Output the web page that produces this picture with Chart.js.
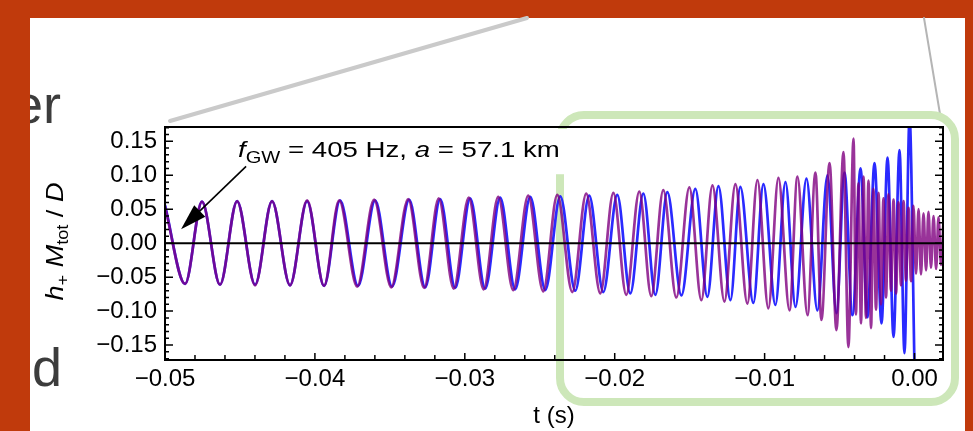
<!DOCTYPE html>
<html>
<head>
<meta charset="utf-8">
<script src="https://cdn.jsdelivr.net/npm/chart.js@4.4.1/dist/chart.umd.min.js"></script>
<style>
  html, body { margin: 0; padding: 0; background: #c03a0c; overflow: hidden; }
  #wrap { position: relative; width: 973px; height: 431px; }
  canvas { display: block; }
</style>
</head>
<body>
<div id="wrap"><canvas id="c" width="973" height="431"></canvas></div>
<script>
// Successive extrema of the strain h+ Mtot/D against time t (s) for the two waveforms.
const blueT = [-0.05000, -0.04866, -0.04753, -0.04633, -0.04519, -0.04399, -0.04286, -0.04166, -0.04052, -0.03939,
               -0.03832, -0.03712, -0.03598, -0.03485, -0.03371, -0.03264, -0.03164, -0.03064, -0.02964, -0.02864,
               -0.02764, -0.02664, -0.02563, -0.02463, -0.02363, -0.02263, -0.02170, -0.02076, -0.01983, -0.01896,
               -0.01809, -0.01729, -0.01649, -0.01555, -0.01462, -0.01382, -0.01308, -0.01228, -0.01162, -0.01075,
               -0.01008, -0.00928, -0.00861, -0.00794, -0.00721, -0.00648, -0.00581, -0.00521, -0.00467, -0.00414,
               -0.00360, -0.00314, -0.00267, -0.00220, -0.00180, -0.00140, -0.00100, -0.00067, -0.00033, 0.00000];
const blueH = [0.056, -0.060, 0.061, -0.061, 0.062, -0.061, 0.062, -0.062, 0.062, -0.063,
               0.063, -0.063, 0.063, -0.064, 0.064, -0.065, 0.065, -0.066, 0.066, -0.067,
               0.067, -0.068, 0.068, -0.069, 0.069, -0.070, 0.070, -0.072, 0.071, -0.074,
               0.073, -0.076, 0.075, -0.077, 0.080, -0.079, 0.084, -0.084, 0.083, -0.088,
               0.087, -0.091, 0.090, -0.094, 0.095, -0.099, 0.100, -0.103, 0.104, -0.106,
               0.110, -0.109, 0.118, -0.118, 0.126, -0.138, 0.137, -0.162, 0.185, -0.185];

const purpleT = [-0.05000, -0.04866, -0.04753, -0.04633, -0.04519, -0.04399, -0.04286, -0.04166, -0.04052, -0.03939,
                 -0.03838, -0.03718, -0.03605, -0.03491, -0.03378, -0.03271, -0.03174, -0.03074, -0.02974, -0.02874,
                 -0.02777, -0.02677, -0.02577, -0.02477, -0.02383, -0.02283, -0.02190, -0.02096, -0.02009, -0.01923,
                 -0.01836, -0.01756, -0.01676, -0.01589, -0.01502, -0.01422, -0.01348, -0.01268, -0.01195, -0.01115,
                 -0.01048, -0.00975, -0.00908, -0.00834, -0.00781, -0.00714, -0.00661, -0.00621, -0.00567, -0.00521,
                 -0.00474, -0.00441, -0.00407,
                 -0.00391, -0.00374, -0.00357, -0.00340, -0.00324, -0.00307, -0.00290, -0.00274, -0.00257, -0.00240,
                 -0.00224, -0.00207, -0.00190, -0.00174, -0.00157, -0.00140, -0.00123, -0.00107, -0.00090, -0.00073,
                 -0.00057, -0.00040, -0.00023, -0.00007, 0.00010, 0.00027, 0.00043, 0.00060, 0.00077, 0.00093,
                 0.00110, 0.00127, 0.00144, 0.00160, 0.00177, 0.00194];
const purpleH = [0.054, -0.060, 0.061, -0.061, 0.062, -0.062, 0.062, -0.062, 0.063, -0.063,
                 0.063, -0.064, 0.064, -0.065, 0.065, -0.066, 0.066, -0.067, 0.067, -0.068,
                 0.068, -0.069, 0.070, -0.071, 0.071, -0.072, 0.073, -0.074, 0.074, -0.076,
                 0.076, -0.078, 0.078, -0.080, 0.082, -0.084, 0.085, -0.086, 0.087, -0.089,
                 0.093, -0.096, 0.096, -0.099, 0.098, -0.106, 0.104, -0.113, 0.118, -0.128,
                 0.134, -0.153, 0.154,
                 -0.105, 0.088, -0.118, 0.098, -0.110, 0.092, -0.125, 0.080, -0.098, 0.074,
                 -0.090, 0.066, -0.080, 0.072, -0.070, 0.064, -0.074, 0.060, -0.062, 0.062,
                 -0.055, 0.052, -0.056, 0.055, -0.045, 0.050, -0.046, 0.044, -0.040, 0.046,
                 -0.036, 0.040, -0.038, 0.038, -0.032, 0.036];

const xTicks = [-0.05, -0.04, -0.03, -0.02, -0.01, 0.00];
const yTicks = [-0.15, -0.10, -0.05, 0.00, 0.05, 0.10, 0.15];

const FONT = "'Liberation Sans', Arial, Helvetica, sans-serif";

const toPoints = (ts, hs) => ts.map((t, i) => ({ x: t, y: hs[i] }));
const fmt = v => Math.abs(v) < 1e-9 ? '0.00' : (v < 0 ? '\u2212' : '') + Math.abs(v).toFixed(2);

function roundRectPath(ctx, x, y, w, h, r) {
  ctx.beginPath();
  ctx.moveTo(x + r, y);
  ctx.lineTo(x + w - r, y);
  ctx.arcTo(x + w, y, x + w, y + r, r);
  ctx.lineTo(x + w, y + h - r);
  ctx.arcTo(x + w, y + h, x + w - r, y + h, r);
  ctx.lineTo(x + r, y + h);
  ctx.arcTo(x, y + h, x, y + h - r, r);
  ctx.lineTo(x, y + r);
  ctx.arcTo(x, y, x + r, y, r);
  ctx.closePath();
}

// Draws a run of text pieces [text, font, dy] scaled horizontally to a given width.
function drawRuns(ctx, runs, width) {
  let total = 0;
  for (const [t, f] of runs) { ctx.font = f; total += ctx.measureText(t).width; }
  const sx = width / total;
  ctx.save();
  ctx.scale(sx, 1);
  let cx = 0;
  for (const [t, f, dy] of runs) {
    ctx.font = f;
    ctx.fillText(t, cx, dy || 0);
    cx += ctx.measureText(t).width;
  }
  ctx.restore();
}

// Slide backdrop: frame colour, white panel, callout lines, highlight box, text fragments.
const slidePlugin = {
  id: 'slide',
  beforeDraw(chart) {
    const ctx = chart.ctx;
    ctx.save();
    ctx.fillStyle = '#c03a0c';
    ctx.fillRect(0, 0, 973, 431);
    ctx.fillStyle = '#ffffff';
    ctx.fillRect(30, 18, 935, 413);

    ctx.lineCap = 'round';
    ctx.strokeStyle = '#cacaca';
    ctx.lineWidth = 4;
    ctx.beginPath(); ctx.moveTo(170, 121); ctx.lineTo(527, 18); ctx.stroke();
    ctx.strokeStyle = '#b5b5b5';
    ctx.lineWidth = 2;
    ctx.beginPath(); ctx.moveTo(924, 18); ctx.lineTo(941, 120); ctx.stroke();

    ctx.strokeStyle = '#cde7b9';
    ctx.lineWidth = 8;
    roundRectPath(ctx, 560, 115, 395, 287, 24);
    ctx.stroke();

    ctx.beginPath(); ctx.rect(30, 18, 935, 413); ctx.clip();
    ctx.fillStyle = '#3c3c3c';
    ctx.font = '54px ' + FONT;
    ctx.textAlign = 'right';
    ctx.textBaseline = 'alphabetic';
    ctx.fillText('er', 61, 123);
    ctx.fillText('d', 62, 386);
    ctx.restore();
  }
};

// Plot frame, zero line, inward ticks, annotation and vertical axis title.
const framePlugin = {
  id: 'frame',
  afterDatasetsDraw(chart) {
    const { ctx, chartArea: a, scales: { x, y } } = chart;
    ctx.save();

    // annotation with its opaque label box
    const tx = x.getPixelForValue(-0.04513);
    const ty = y.getPixelForValue(0.1265);
    ctx.fillStyle = '#ffffff';
    ctx.fillRect(tx - 6, a.top + 2, x.getPixelForValue(-0.0231) - tx + 6, ty + 17 - a.top - 2);
    ctx.fillStyle = '#000000';
    ctx.textAlign = 'left';
    ctx.textBaseline = 'alphabetic';
    ctx.save();
    ctx.translate(tx, ty);
    drawRuns(ctx, [
      ['f', 'italic 22px ' + FONT],
      ['GW', '16px ' + FONT, 6],
      [' = 405 Hz, ', '22px ' + FONT],
      ['a', 'italic 22px ' + FONT],
      [' = 57.1 km', '22px ' + FONT]
    ], x.getPixelForValue(-0.02366) - tx);
    ctx.restore();

    // arrow from the label to the start of the waveform
    const x0 = x.getPixelForValue(-0.04459), y0 = y.getPixelForValue(0.113);
    const x1 = x.getPixelForValue(-0.04893), y1 = y.getPixelForValue(0.0206);
    const ang = Math.atan2(y1 - y0, x1 - x0);
    ctx.strokeStyle = '#000';
    ctx.lineWidth = 1.6;
    ctx.beginPath(); ctx.moveTo(x0, y0); ctx.lineTo(x1 - 14 * Math.cos(ang), y1 - 14 * Math.sin(ang)); ctx.stroke();
    ctx.beginPath();
    ctx.moveTo(x1, y1);
    ctx.lineTo(x1 - 26 * Math.cos(ang) + 8 * Math.sin(ang), y1 - 26 * Math.sin(ang) - 8 * Math.cos(ang));
    ctx.lineTo(x1 - 26 * Math.cos(ang) - 8 * Math.sin(ang), y1 - 26 * Math.sin(ang) + 8 * Math.cos(ang));
    ctx.closePath();
    ctx.fill();

    // zero line
    ctx.strokeStyle = '#000';
    ctx.lineWidth = 2;
    const y0px = y.getPixelForValue(0);
    ctx.beginPath(); ctx.moveTo(a.left, y0px); ctx.lineTo(a.right, y0px); ctx.stroke();

    // inward ticks
    ctx.lineWidth = 1.5;
    ctx.beginPath();
    for (let k = -25; k <= 0; k++) {
      const px = x.getPixelForValue(k * 0.002);
      const len = k % 5 === 0 ? 7 : 5;
      ctx.moveTo(px, a.bottom); ctx.lineTo(px, a.bottom - len);
    }
    for (let k = -17; k <= 17; k++) {
      const py = y.getPixelForValue(k * 0.01);
      const len = k % 5 === 0 ? 8 : 4;
      ctx.moveTo(a.left, py); ctx.lineTo(a.left + len, py);
      ctx.moveTo(a.right, py); ctx.lineTo(a.right - len, py);
    }
    ctx.stroke();

    // frame
    ctx.lineWidth = 2;
    ctx.strokeRect(a.left, a.top, a.right - a.left, a.bottom - a.top);

    // vertical axis title
    ctx.save();
    ctx.translate(a.left - 110, (a.top + a.bottom) / 2 - 2);
    ctx.rotate(-Math.PI / 2);
    const runs = [
      ['h', 'italic 24px ' + FONT],
      ['+', '16px ' + FONT, 5],
      [' ', '24px ' + FONT],
      ['M', 'italic 24px ' + FONT],
      ['tot', '16px ' + FONT, 5],
      [' / ', '24px ' + FONT],
      ['D', 'italic 24px ' + FONT]
    ];
    ctx.translate(-59, 8);
    drawRuns(ctx, runs, 118);
    ctx.restore();

    ctx.restore();
  }
};

const tickFont = { family: FONT, size: 24 };

new Chart(document.getElementById('c'), {
  type: 'line',
  data: {
    datasets: [
      {
        label: 'waveform 2',
        data: toPoints(purpleT, purpleH),
        borderColor: 'rgba(128, 0, 128, 0.8)',
        borderWidth: 2.7,
        pointRadius: 0,
        cubicInterpolationMode: 'monotone',
        clip: 0
      },
      {
        label: 'waveform 1',
        data: toPoints(blueT, blueH),
        borderColor: '#2a2aff',
        borderWidth: 2.7,
        pointRadius: 0,
        cubicInterpolationMode: 'monotone',
        clip: 0
      }
    ]
  },
  options: {
    responsive: false,
    animation: false,
    devicePixelRatio: 1,
    events: [],
    layout: { padding: { left: 30, right: 30, top: 127, bottom: 0 } },
    plugins: { legend: { display: false }, tooltip: { enabled: false } },
    scales: {
      x: {
        type: 'linear',
        position: 'bottom',
        min: -0.05,
        max: 0.0019,
        grid: { display: false, drawTicks: false },
        border: { display: false },
        ticks: { font: tickFont, color: '#000', padding: 5, autoSkip: false, maxRotation: 0, callback: fmt },
        afterBuildTicks: s => { s.ticks = xTicks.map(v => ({ value: v })); },
        afterFit: s => { s.height = 71; },
        title: { display: true, text: 't (s)', color: '#000', font: { family: FONT, size: 24 }, padding: 0 }
      },
      y: {
        type: 'linear',
        position: 'left',
        min: -0.172,
        max: 0.171,
        grid: { display: false, drawTicks: false },
        border: { display: false },
        ticks: { font: tickFont, color: '#000', padding: 8, autoSkip: false, callback: fmt },
        afterBuildTicks: s => { s.ticks = yTicks.map(v => ({ value: v })); },
        afterFit: s => { s.width = 135; }
      }
    }
  },
  plugins: [slidePlugin, framePlugin]
});
</script>
</body>
</html>
